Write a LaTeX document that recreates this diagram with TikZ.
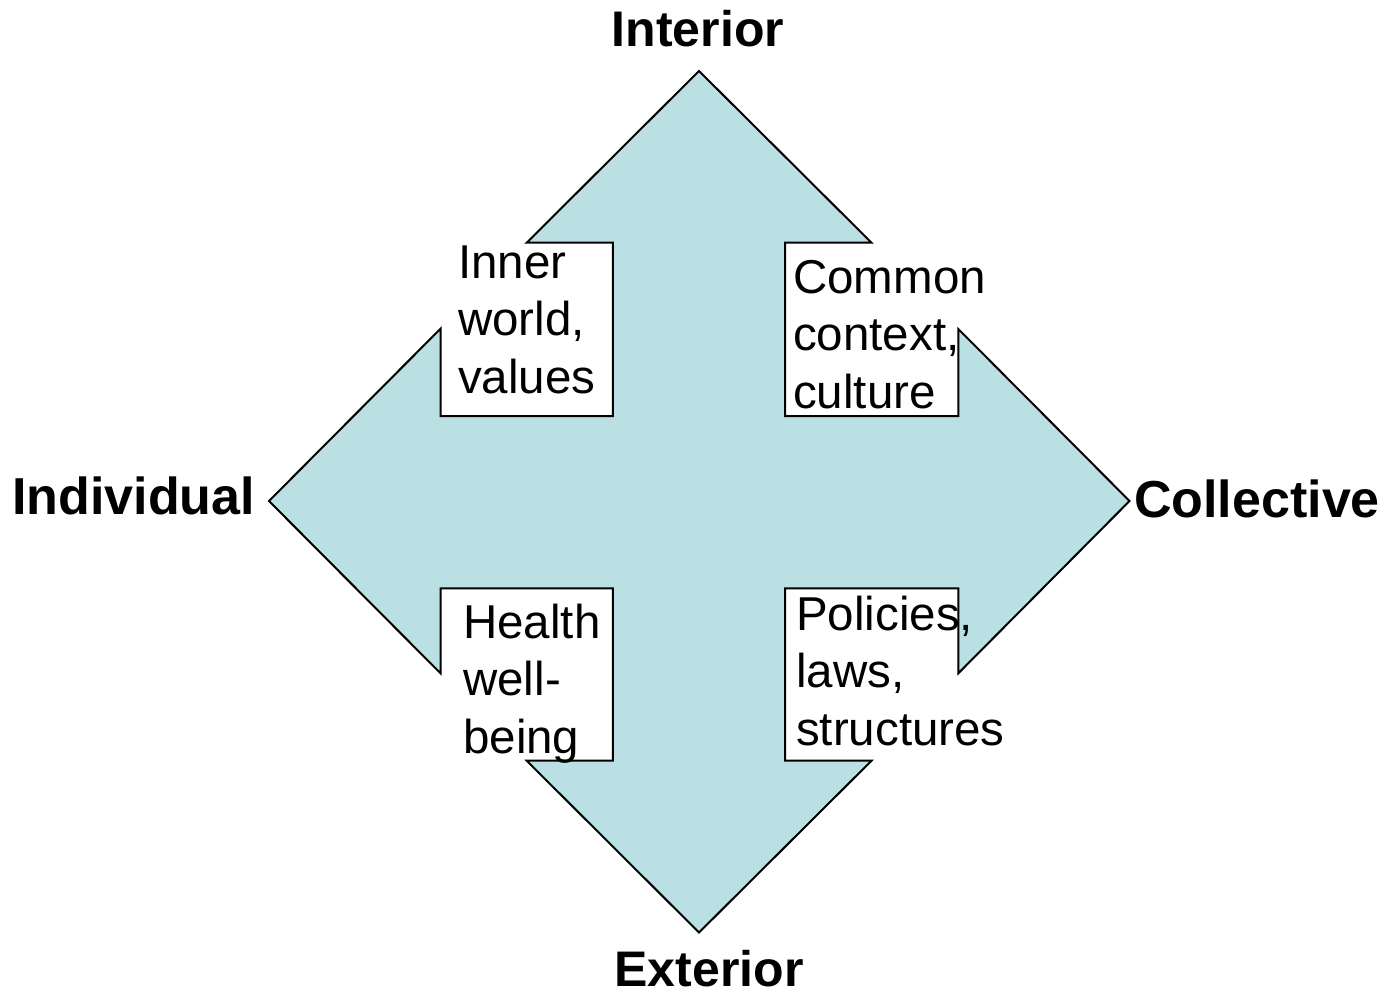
\documentclass[tikz,border=0pt]{standalone}
\usepackage{fontspec}
\setmainfont{Liberation Sans}
\definecolor{arrowfill}{RGB}{187,224,227}
\tikzset{
  quadarrow/.style={draw=black, line width=2pt, fill=arrowfill, line join=miter},
  axislabel/.style={font=\fontsize{50}{60}\selectfont\bfseries, inner sep=0pt},
  sidelabel/.style={font=\fontsize{52}{62}\selectfont\bfseries, inner sep=0pt},
  quadtext/.style={font=\fontsize{47.5}{57.5}\selectfont, align=left, inner sep=0pt, anchor=base west},
}
\begin{document}
\begin{tikzpicture}[x=1pt,y=-1pt]
\useasboundingbox (0,0) rectangle (1388,994);
% four-way arrow
\draw[quadarrow] (699,71) -- (871.5,242.7) -- (785,242.7) -- (785,416) -- (958.3,416) -- (958.3,329)
  -- (1129.5,501) -- (958.3,673.3) -- (958.3,588.3) -- (785,588.3) -- (785,760.7) -- (871.5,760.7)
  -- (699,932.5) -- (526.7,760.7) -- (612.8,760.7) -- (612.8,588.3) -- (440.7,588.3) -- (440.7,673.5)
  -- (269,501) -- (440.7,328.5) -- (440.7,416) -- (612.8,416) -- (612.8,242.7) -- (526.7,242.7) -- cycle;
% axis labels
\node[axislabel, anchor=base] (interior) at (698,46) {Interior};
\node[axislabel, anchor=base, text depth=0pt] (exterior) at (709,986) {Exterior};
\node[sidelabel, anchor=base west] (individual) at (12,514) {Individual};
\node[sidelabel, anchor=base west] (collective) at (1134,517) {Collective};
% quadrant texts (anchored at the baseline of the last line)
\node[quadtext] (inner) at (458,393) {Inner\\world,\\values};
\node[quadtext] (common) at (793,408) {Common\\context,\\culture};
\node[quadtext] (health) at (463,753) {Health\\well-\\being};
\node[quadtext] (policies) at (796,745) {Policies,\\laws,\\structures};
\end{tikzpicture}
\end{document}
